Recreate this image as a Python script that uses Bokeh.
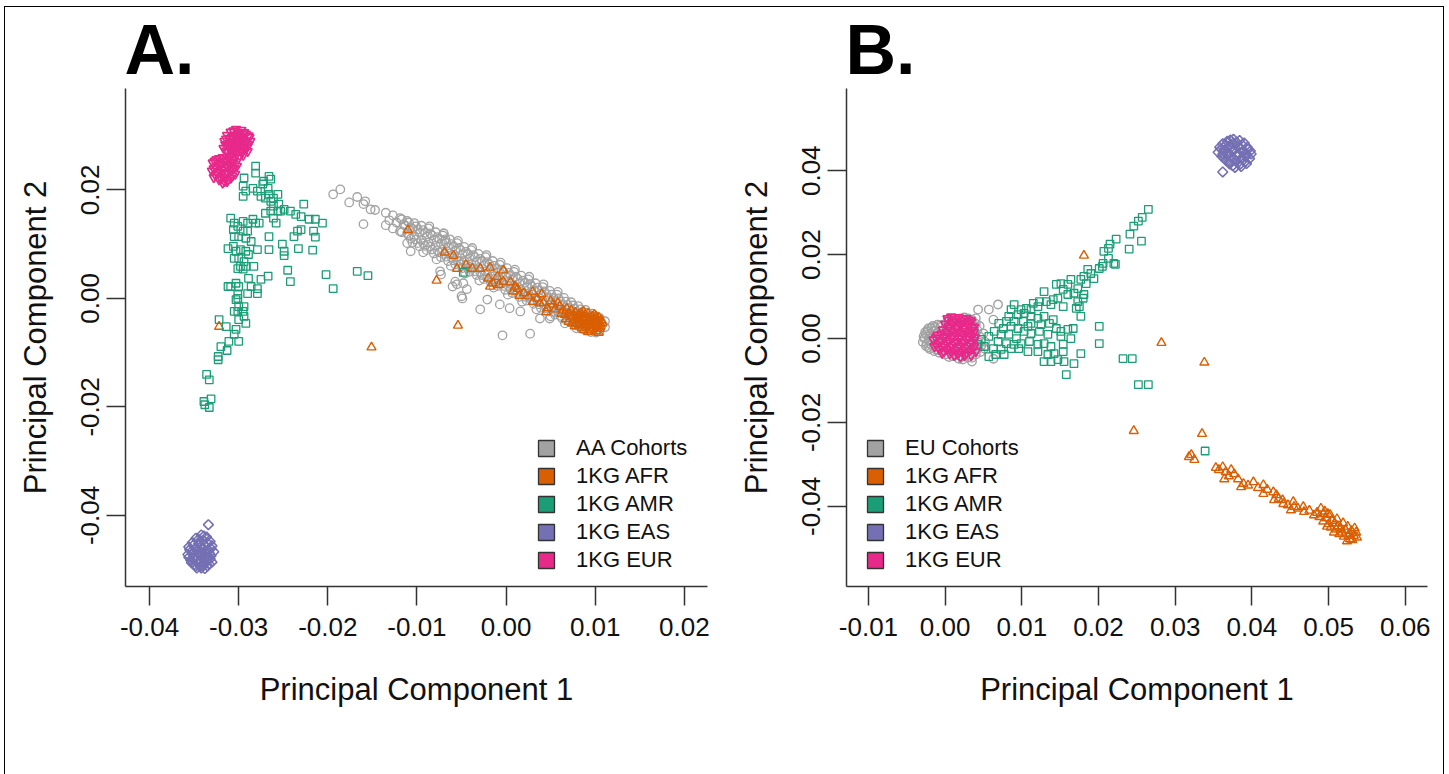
from bokeh.plotting import figure
from bokeh.models import Range1d, FixedTicker, PrintfTickFormatter, Legend, LegendItem
from bokeh.layouts import row
from bokeh.embed import file_html
from bokeh.resources import INLINE

GRAY = "#A2A2A2"
C_AFR = "#D95F02"
C_AMR = "#1B9E77"
C_EAS = "#7570B3"
C_EUR = "#E7298A"
NAN = float("nan")

# ---------------- Panel A data (PC1, PC2) ----------------
A_XTICKS = [-0.04, -0.03, -0.02, -0.01, 0.00, 0.01, 0.02]
A_YTICKS = [-0.04, -0.02, 0.00, 0.02]
A_LABELS = ["AA Cohorts", "1KG AFR", "1KG AMR", "1KG EAS", "1KG EUR"]

A_AA = [
    (-0.0135, 0.0158), (-0.0131, 0.0144), (-0.0135, 0.0135),
    (-0.0127, 0.0153), (-0.0123, 0.0140), (-0.0127, 0.0129),
    (-0.0119, 0.0148), (-0.0115, 0.0137), (-0.0119, 0.0124),
    (-0.0111, 0.0143), (-0.0107, 0.0131), (-0.0111, 0.0120), (-0.0107, 0.0110),
    (-0.0103, 0.0139), (-0.0099, 0.0127), (-0.0103, 0.0115), (-0.0099, 0.0102),
    (-0.0095, 0.0134), (-0.0091, 0.0121), (-0.0095, 0.0108), (-0.0091, 0.0097),
    (-0.0087, 0.0129), (-0.0083, 0.0116), (-0.0087, 0.0103), (-0.0083, 0.0090),
    (-0.0079, 0.0122), (-0.0075, 0.0110), (-0.0079, 0.0097), (-0.0075, 0.0085),
    (-0.0071, 0.0116), (-0.0067, 0.0102), (-0.0071, 0.0090), (-0.0067, 0.0077),
    (-0.0063, 0.0109), (-0.0059, 0.0096), (-0.0063, 0.0083), (-0.0059, 0.0070),
    (-0.0055, 0.0102), (-0.0051, 0.0089), (-0.0055, 0.0076), (-0.0051, 0.0063),
    (-0.0047, 0.0095), (-0.0043, 0.0082), (-0.0047, 0.0069), (-0.0043, 0.0056),
    (-0.0039, 0.0089), (-0.0035, 0.0076), (-0.0039, 0.0063), (-0.0035, 0.0050),
    (-0.0031, 0.0082), (-0.0027, 0.0069), (-0.0031, 0.0056), (-0.0027, 0.0043),
    (-0.0023, 0.0076), (-0.0019, 0.0063), (-0.0023, 0.0050), (-0.0019, 0.0037),
    (-0.0015, 0.0069), (-0.0011, 0.0056), (-0.0015, 0.0043), (-0.0011, 0.0030),
    (-0.0007, 0.0062), (-0.0003, 0.0049), (-0.0007, 0.0036), (-0.0003, 0.0023),
    (0.0001, 0.0056), (0.0005, 0.0043), (0.0001, 0.0030), (0.0005, 0.0017),
    (0.0009, 0.0049), (0.0013, 0.0036), (0.0009, 0.0023), (0.0013, 0.0010),
    (0.0017, 0.0042), (0.0021, 0.0029), (0.0017, 0.0016), (0.0021, 0.0003),
    (0.0025, 0.0035), (0.0029, 0.0022), (0.0025, 0.0009), (0.0029, -0.0004),
    (0.0033, 0.0028), (0.0037, 0.0015), (0.0033, 0.0002), (0.0037, -0.0011),
    (0.0041, 0.0021), (0.0045, 0.0008), (0.0041, -0.0005), (0.0045, -0.0018),
    (0.0049, 0.0014), (0.0053, 0.0001), (0.0049, -0.0012), (0.0053, -0.0025),
    (0.0057, 0.0007), (0.0061, -0.0006), (0.0057, -0.0019), (0.0061, -0.0032),
    (0.0065, 0.0001), (0.0069, -0.0012), (0.0065, -0.0025), (0.0069, -0.0038),
    (0.0073, -0.0007), (0.0077, -0.0019), (0.0073, -0.0032), (0.0077, -0.0045),
    (0.0081, -0.0014), (0.0085, -0.0026), (0.0081, -0.0039), (0.0085, -0.0052),
    (0.0089, -0.0021), (0.0093, -0.0033), (0.0089, -0.0046), (0.0093, -0.0058),
    (0.0097, -0.0028), (0.0101, -0.0040), (0.0097, -0.0052), (0.0101, -0.0063),
    (0.0105, -0.0036), (0.0108, -0.0048), (0.0105, -0.0060), (0.0111, -0.0042),
    (0.0111, -0.0053),
    (-0.0117, 0.0146), (-0.0113, 0.0134), (-0.0117, 0.0122),
    (-0.0109, 0.0140), (-0.0105, 0.0128), (-0.0109, 0.0116), (-0.0105, 0.0103),
    (-0.0101, 0.0133), (-0.0097, 0.0121), (-0.0101, 0.0109), (-0.0097, 0.0096),
    (-0.0093, 0.0126), (-0.0089, 0.0114), (-0.0093, 0.0102), (-0.0089, 0.0089),
    (-0.0085, 0.0120), (-0.0081, 0.0108), (-0.0085, 0.0096), (-0.0081, 0.0083),
    (-0.0077, 0.0113), (-0.0073, 0.0101), (-0.0077, 0.0089), (-0.0073, 0.0076),
    (-0.0069, 0.0106), (-0.0065, 0.0094), (-0.0069, 0.0082), (-0.0065, 0.0069),
    (-0.0061, 0.0100), (-0.0057, 0.0088), (-0.0061, 0.0076), (-0.0057, 0.0063),
    (-0.0053, 0.0093), (-0.0049, 0.0081), (-0.0053, 0.0069), (-0.0049, 0.0056),
    (-0.0045, 0.0086), (-0.0041, 0.0074), (-0.0045, 0.0062), (-0.0041, 0.0049),
    (-0.0037, 0.0080), (-0.0033, 0.0068), (-0.0037, 0.0056), (-0.0033, 0.0043),
    (-0.0029, 0.0073), (-0.0025, 0.0061), (-0.0029, 0.0049), (-0.0025, 0.0036),
    (-0.0021, 0.0067), (-0.0017, 0.0055), (-0.0021, 0.0043), (-0.0017, 0.0030),
    (-0.0013, 0.0060), (-0.0009, 0.0048), (-0.0013, 0.0036), (-0.0009, 0.0023),
    (-0.0005, 0.0053), (-0.0001, 0.0041), (-0.0005, 0.0029), (-0.0001, 0.0016),
    (0.0003, 0.0047), (0.0007, 0.0035), (0.0003, 0.0023), (0.0007, 0.0010),
    (0.0011, 0.0040), (0.0015, 0.0028), (0.0011, 0.0016), (0.0015, 0.0003),
    (0.0019, 0.0033), (0.0023, 0.0021), (0.0019, 0.0009), (0.0023, -0.0004),
    (0.0027, 0.0027), (0.0031, 0.0015), (0.0027, 0.0003), (0.0031, -0.0010),
    (0.0035, 0.0020), (0.0039, 0.0008), (0.0035, -0.0004), (0.0039, -0.0017),
    (0.0043, 0.0013), (0.0047, 0.0001), (0.0043, -0.0011), (0.0047, -0.0024),
    (0.0051, 0.0007), (0.0055, -0.0005), (0.0051, -0.0017), (0.0055, -0.0030),
    (0.0059, 0.0000), (0.0063, -0.0012), (0.0059, -0.0024), (0.0063, -0.0037),
    (0.0067, -0.0006), (0.0071, -0.0018), (0.0067, -0.0030), (0.0071, -0.0043),
    (0.0075, -0.0013), (0.0079, -0.0025), (0.0075, -0.0037), (0.0079, -0.0050),
    (0.0083, -0.0020), (0.0087, -0.0032), (0.0083, -0.0044), (0.0087, -0.0057),
    (0.0091, -0.0026), (0.0095, -0.0038), (0.0091, -0.0050), (0.0095, -0.0062),
    (0.0099, -0.0033), (0.0103, -0.0045), (0.0099, -0.0057),
    (-0.0093, 0.0085), (-0.0078, 0.0072), (-0.0062, 0.0060), (-0.0046, 0.0046),
    (-0.0030, 0.0033), (-0.0014, 0.0020), (0.0002, 0.0007), (0.0018, -0.0006),
    (0.0034, -0.0020), (0.0050, -0.0033), (0.0066, -0.0046),
    (-0.0086, 0.0133), (-0.0070, 0.0120), (-0.0054, 0.0106), (-0.0038, 0.0093),
    (-0.0022, 0.0080), (-0.0006, 0.0066), (0.0010, 0.0053), (0.0026, 0.0040),
    (0.0042, 0.0026), (0.0058, 0.0012),
    (-0.0194, 0.0192), (-0.0186, 0.0201), (-0.0176, 0.0177), (-0.0167, 0.0187),
    (-0.0160, 0.0174), (-0.0158, 0.0179), (-0.0152, 0.0164), (-0.0160, 0.0137),
    (-0.0147, 0.0163), (-0.0107, 0.0087), (-0.0111, 0.0102), (-0.0070, 0.0120),
    (-0.0068, 0.0109), (-0.0055, 0.0026), (-0.0048, 0.0028), (-0.0044, 0.0017),
    (-0.0049, 0.0000), (-0.0029, -0.0020), (-0.0021, -0.0002), (-0.0004, -0.0068),
    (0.0027, -0.0065), (-0.0007, -0.0011), (0.0004, -0.0018), (0.0016, -0.0024),
    (0.0038, -0.0037), (0.0049, -0.0037), (0.0079, -0.0055), (-0.0073, 0.0044),
    (-0.0060, 0.0022), (-0.0050, 0.0004), (-0.0057, 0.0031), (-0.0074, 0.0050),
]

A_AFR = [
    (-0.0110, 0.0126), (-0.0069, 0.0085), (-0.0059, 0.0079), (-0.0055, 0.0055),
    (-0.0038, 0.0055), (-0.0029, 0.0055), (-0.0018, 0.0057), (-0.0003, 0.0052),
    (-0.0020, 0.0037), (-0.0015, 0.0028), (-0.0003, 0.0031), (-0.0018, 0.0022),
    (0.0008, 0.0013), (0.0013, 0.0018), (0.0025, 0.0004), (0.0030, -0.0006),
    (0.0038, -0.0009), (0.0053, -0.0011), (0.0046, -0.0018),
    (-0.0045, 0.0062), (-0.0010, 0.0040), (0.0005, 0.0030), (0.0020, 0.0010),
    (0.0035, 0.0000), (0.0042, -0.0008), (0.0050, -0.0005), (0.0055, -0.0020),
    (0.0058, -0.0008), (0.0062, -0.0028), (0.0045, -0.0025), (0.0030, 0.0012),
    (0.0015, 0.0005), (-0.0008, 0.0025), (0.0010, 0.0022), (0.0040, 0.0008),
    (-0.0078, 0.0033), (-0.0054, -0.0050), (-0.0151, -0.0090), (-0.0322, -0.0052),
    (0.0060, -0.0015), (0.0064, -0.0022), (0.0068, -0.0018), (0.0070, -0.0027),
    (0.0073, -0.0022), (0.0075, -0.0032), (0.0078, -0.0026), (0.0080, -0.0036),
    (0.0081, -0.0030), (0.0083, -0.0042), (0.0085, -0.0034), (0.0086, -0.0048),
    (0.0088, -0.0040), (0.0089, -0.0030), (0.0090, -0.0053), (0.0091, -0.0045),
    (0.0093, -0.0036), (0.0094, -0.0058), (0.0095, -0.0049), (0.0096, -0.0041),
    (0.0097, -0.0033), (0.0098, -0.0055), (0.0099, -0.0046), (0.0100, -0.0038),
    (0.0101, -0.0060), (0.0102, -0.0051), (0.0103, -0.0043), (0.0104, -0.0035),
    (0.0105, -0.0056), (0.0106, -0.0047), (0.0107, -0.0040), (0.0080, -0.0046),
    (0.0076, -0.0040), (0.0085, -0.0055), (0.0092, -0.0062), (0.0072, -0.0034),
    (0.0066, -0.0030), (0.0087, -0.0024), (0.0099, -0.0030), (0.0104, -0.0063),
    (0.0067, -0.0038), (0.0070, -0.0043), (0.0074, -0.0046), (0.0077, -0.0051),
    (0.0079, -0.0041), (0.0082, -0.0049), (0.0084, -0.0027), (0.0087, -0.0058),
    (0.0089, -0.0050), (0.0092, -0.0028), (0.0094, -0.0044), (0.0096, -0.0054),
    (0.0098, -0.0039), (0.0100, -0.0049), (0.0102, -0.0056), (0.0104, -0.0042),
    (0.0106, -0.0052), (0.0108, -0.0045), (0.0095, -0.0061), (0.0091, -0.0040),
    (0.0083, -0.0037), (0.0078, -0.0034), (0.0088, -0.0035), (0.0101, -0.0033),
    (0.0097, -0.0047),
]

A_AMR = [
    (-0.0281, 0.0244), (-0.0281, 0.0231), (-0.0294, 0.0222), (-0.0295, 0.0207),
    (-0.0295, 0.0188), (-0.0292, 0.0198), (-0.0284, 0.0203), (-0.0279, 0.0198),
    (-0.0273, 0.0211), (-0.0272, 0.0216), (-0.0266, 0.0225), (-0.0264, 0.0220),
    (-0.0267, 0.0203), (-0.0275, 0.0188), (-0.0270, 0.0185), (-0.0264, 0.0179),
    (-0.0266, 0.0192), (-0.0261, 0.0185), (-0.0256, 0.0192), (-0.0255, 0.0174),
    (-0.0261, 0.0170), (-0.0256, 0.0161), (-0.0264, 0.0161), (-0.0270, 0.0157),
    (-0.0261, 0.0148), (-0.0258, 0.0139), (-0.0253, 0.0161), (-0.0249, 0.0164),
    (-0.0242, 0.0161), (-0.0236, 0.0155), (-0.0230, 0.0151), (-0.0221, 0.0146),
    (-0.0214, 0.0146), (-0.0206, 0.0139), (-0.0227, 0.0174), (-0.0234, 0.0124),
    (-0.0238, 0.0114), (-0.0230, 0.0127), (-0.0216, 0.0124), (-0.0214, 0.0113),
    (-0.0309, 0.0148), (-0.0305, 0.0139), (-0.0306, 0.0127), (-0.0301, 0.0133),
    (-0.0295, 0.0142), (-0.0290, 0.0139), (-0.0284, 0.0146), (-0.0281, 0.0139),
    (-0.0277, 0.0139), (-0.0295, 0.0124), (-0.0290, 0.0124), (-0.0305, 0.0114),
    (-0.0300, 0.0114), (-0.0292, 0.0111), (-0.0286, 0.0105), (-0.0312, 0.0092),
    (-0.0306, 0.0096), (-0.0303, 0.0087), (-0.0298, 0.0090), (-0.0292, 0.0087),
    (-0.0289, 0.0081), (-0.0305, 0.0074), (-0.0300, 0.0074), (-0.0294, 0.0068),
    (-0.0298, 0.0059), (-0.0292, 0.0059), (-0.0301, 0.0055), (-0.0295, 0.0054),
    (-0.0283, 0.0059), (-0.0279, 0.0090), (-0.0266, 0.0090), (-0.0266, 0.0114),
    (-0.0251, 0.0100), (-0.0249, 0.0087), (-0.0249, 0.0079), (-0.0233, 0.0092),
    (-0.0217, 0.0089), (-0.0245, 0.0052), (-0.0242, 0.0031), (-0.0202, 0.0044),
    (-0.0194, 0.0018), (-0.0167, 0.0050), (-0.0155, 0.0042), (-0.0312, 0.0022),
    (-0.0309, 0.0022), (-0.0303, 0.0028), (-0.0300, 0.0022), (-0.0289, 0.0037),
    (-0.0286, 0.0022), (-0.0279, 0.0018), (-0.0275, 0.0035), (-0.0267, 0.0041),
    (-0.0279, 0.0009), (-0.0301, 0.0000), (-0.0301, 0.0007), (-0.0290, 0.0009),
    (-0.0303, -0.0002), (-0.0300, -0.0015), (-0.0294, -0.0015), (-0.0305, -0.0024),
    (-0.0301, -0.0024), (-0.0295, -0.0024), (-0.0294, -0.0033), (-0.0300, -0.0039),
    (-0.0292, -0.0046), (-0.0322, -0.0039), (-0.0314, -0.0052), (-0.0303, -0.0057),
    (-0.0305, -0.0066), (-0.0300, -0.0079), (-0.0311, -0.0079), (-0.0320, -0.0089),
    (-0.0313, -0.0096), (-0.0323, -0.0107), (-0.0323, -0.0113), (-0.0336, -0.0140),
    (-0.0333, -0.0150), (-0.0339, -0.0190), (-0.0331, -0.0185), (-0.0338, -0.0196),
    (-0.0333, -0.0201), (-0.0048, 0.0048),
]

A_EAS = [
    (-0.0342, -0.0436), (-0.0336, -0.0440), (-0.0348, -0.0442), (-0.0340, -0.0446),
    (-0.0352, -0.0450), (-0.0332, -0.0448), (-0.0345, -0.0452), (-0.0338, -0.0455),
    (-0.0356, -0.0458), (-0.0330, -0.0456), (-0.0348, -0.0460), (-0.0341, -0.0462),
    (-0.0334, -0.0464), (-0.0353, -0.0466), (-0.0328, -0.0467), (-0.0345, -0.0469),
    (-0.0337, -0.0470), (-0.0357, -0.0472), (-0.0331, -0.0474), (-0.0349, -0.0476),
    (-0.0341, -0.0478), (-0.0335, -0.0481), (-0.0354, -0.0482), (-0.0345, -0.0485),
    (-0.0330, -0.0486), (-0.0339, -0.0488), (-0.0350, -0.0490), (-0.0343, -0.0494),
    (-0.0335, -0.0493), (-0.0347, -0.0497), (-0.0338, -0.0498), (-0.0344, -0.0448),
    (-0.0350, -0.0468), (-0.0336, -0.0476), (-0.0342, -0.0484),
    (-0.0339, -0.0438), (-0.0345, -0.0444), (-0.0335, -0.0451), (-0.0351, -0.0455),
    (-0.0342, -0.0457), (-0.0331, -0.0461), (-0.0355, -0.0463), (-0.0346, -0.0464),
    (-0.0338, -0.0466), (-0.0352, -0.0471), (-0.0333, -0.0470), (-0.0344, -0.0473),
    (-0.0356, -0.0477), (-0.0339, -0.0479), (-0.0332, -0.0480), (-0.0351, -0.0480),
    (-0.0348, -0.0483), (-0.0336, -0.0485), (-0.0353, -0.0487), (-0.0344, -0.0489),
    (-0.0333, -0.0490), (-0.0340, -0.0492), (-0.0348, -0.0493), (-0.0342, -0.0497),
    (-0.0334, -0.0417),
]

A_EUR = [
    (-0.0303, 0.0312), (-0.0297, 0.0310), (-0.0309, 0.0307), (-0.0300, 0.0305),
    (-0.0292, 0.0303), (-0.0313, 0.0301), (-0.0305, 0.0300), (-0.0296, 0.0298),
    (-0.0288, 0.0297), (-0.0310, 0.0295), (-0.0301, 0.0293), (-0.0292, 0.0291),
    (-0.0316, 0.0290), (-0.0306, 0.0288), (-0.0297, 0.0286), (-0.0289, 0.0284),
    (-0.0312, 0.0283), (-0.0302, 0.0281), (-0.0294, 0.0279), (-0.0317, 0.0277),
    (-0.0307, 0.0275), (-0.0298, 0.0273), (-0.0290, 0.0271), (-0.0312, 0.0269),
    (-0.0303, 0.0267), (-0.0295, 0.0264), (-0.0309, 0.0262), (-0.0300, 0.0259),
    (-0.0306, 0.0309), (-0.0294, 0.0306), (-0.0302, 0.0302), (-0.0289, 0.0300),
    (-0.0308, 0.0297), (-0.0299, 0.0295), (-0.0314, 0.0294), (-0.0295, 0.0293),
    (-0.0304, 0.0290), (-0.0287, 0.0290), (-0.0310, 0.0287), (-0.0300, 0.0286),
    (-0.0292, 0.0287), (-0.0315, 0.0284), (-0.0306, 0.0283), (-0.0297, 0.0282),
    (-0.0290, 0.0280), (-0.0310, 0.0278), (-0.0302, 0.0277), (-0.0294, 0.0275),
    (-0.0314, 0.0272), (-0.0305, 0.0271), (-0.0296, 0.0269), (-0.0308, 0.0266),
    (-0.0299, 0.0264), (-0.0305, 0.0260),
    (-0.0318, 0.0260), (-0.0325, 0.0256), (-0.0314, 0.0254), (-0.0306, 0.0252),
    (-0.0329, 0.0250), (-0.0320, 0.0248), (-0.0310, 0.0246), (-0.0302, 0.0244),
    (-0.0326, 0.0242), (-0.0316, 0.0240), (-0.0307, 0.0238), (-0.0330, 0.0235),
    (-0.0321, 0.0233), (-0.0312, 0.0231), (-0.0304, 0.0229), (-0.0326, 0.0227),
    (-0.0317, 0.0224), (-0.0309, 0.0222), (-0.0322, 0.0219), (-0.0313, 0.0216),
    (-0.0318, 0.0213),
    (-0.0322, 0.0258), (-0.0311, 0.0257), (-0.0327, 0.0253), (-0.0317, 0.0251),
    (-0.0308, 0.0249), (-0.0323, 0.0246), (-0.0313, 0.0244), (-0.0305, 0.0241),
    (-0.0328, 0.0239), (-0.0319, 0.0237), (-0.0310, 0.0235), (-0.0324, 0.0231),
    (-0.0315, 0.0229), (-0.0307, 0.0226), (-0.0328, 0.0223), (-0.0320, 0.0221),
    (-0.0312, 0.0219), (-0.0316, 0.0216),
]

# ---------------- Panel B data (PC1, PC2) ----------------
B_XTICKS = [-0.01, 0.00, 0.01, 0.02, 0.03, 0.04, 0.05, 0.06]
B_YTICKS = [-0.04, -0.02, 0.00, 0.02, 0.04]
B_LABELS = ["EU Cohorts", "1KG AFR", "1KG AMR", "1KG EAS", "1KG EUR"]

B_EU = [
    (-0.0028, 0.0005), (-0.0029, -0.0008), (-0.0026, 0.0015), (-0.0025, -0.0018),
    (-0.0022, 0.0024), (-0.0020, 0.0008), (-0.0021, -0.0005), (-0.0020, -0.0025),
    (-0.0016, 0.0030), (-0.0015, 0.0018), (-0.0014, -0.0030), (-0.0010, 0.0033),
    (-0.0008, -0.0034), (-0.0005, 0.0028), (0.0000, -0.0038), (0.0005, 0.0040),
    (0.0015, 0.0045), (0.0025, 0.0050), (0.0035, 0.0045), (0.0040, 0.0035),
    (0.0042, 0.0020), (0.0045, 0.0005), (0.0044, -0.0010), (0.0042, -0.0025),
    (0.0040, -0.0038), (0.0030, -0.0045), (0.0010, -0.0042), (0.0050, 0.0012),
    (0.0052, -0.0008),
    (-0.0027, 0.0000), (-0.0025, 0.0010), (-0.0024, -0.0012), (-0.0023, 0.0018),
    (-0.0022, -0.0021), (-0.0018, 0.0025), (-0.0018, -0.0015), (-0.0017, 0.0003),
    (-0.0013, 0.0027), (-0.0012, -0.0026), (-0.0011, 0.0012), (-0.0009, -0.0008),
    (-0.0006, 0.0032), (-0.0004, -0.0030), (0.0002, 0.0038), (0.0010, 0.0044),
    (0.0020, 0.0048), (0.0030, 0.0048), (0.0045, 0.0030), (0.0047, -0.0018),
    (0.0046, -0.0032), (0.0035, -0.0046), (0.0005, -0.0044), (0.0018, -0.0048),
    (0.0043, 0.0069), (0.0069, 0.0081), (0.0063, 0.0045), (0.0051, -0.0024),
    (0.0063, -0.0048), (0.0023, -0.0050), (0.0040, 0.0048), (0.0057, 0.0069),
    (0.0035, -0.0055),
]

B_AFR = [
    (0.0181, 0.0198), (0.0282, -0.0010), (0.0338, -0.0057), (0.0246, -0.0220),
    (0.0335, -0.0227), (0.0318, -0.0282), (0.0321, -0.0277), (0.0325, -0.0289),
    (0.0353, -0.0308), (0.0357, -0.0313), (0.0362, -0.0306), (0.0366, -0.0318),
    (0.0364, -0.0335), (0.0373, -0.0313), (0.0377, -0.0323), (0.0382, -0.0335),
    (0.0389, -0.0346), (0.0386, -0.0354), (0.0402, -0.0342), (0.0415, -0.0349),
    (0.0415, -0.0370), (0.0428, -0.0366), (0.0432, -0.0373), (0.0429, -0.0385),
    (0.0435, -0.0382), (0.0441, -0.0394), (0.0447, -0.0397), (0.0454, -0.0389),
    (0.0455, -0.0401), (0.0467, -0.0401), (0.0468, -0.0413), (0.0451, -0.0409),
    (0.0481, -0.0421), (0.0493, -0.0418), (0.0499, -0.0418),
    (0.0395, -0.0350), (0.0420, -0.0360), (0.0440, -0.0385), (0.0460, -0.0405),
    (0.0475, -0.0410), (0.0485, -0.0415), (0.0370, -0.0328), (0.0408, -0.0356),
    (0.0490, -0.0405), (0.0495, -0.0412), (0.0488, -0.0425), (0.0497, -0.0428),
    (0.0502, -0.0420), (0.0505, -0.0434), (0.0493, -0.0436), (0.0500, -0.0442),
    (0.0508, -0.0440), (0.0512, -0.0447), (0.0503, -0.0450), (0.0510, -0.0455),
    (0.0516, -0.0452), (0.0518, -0.0462), (0.0522, -0.0456), (0.0525, -0.0448),
    (0.0527, -0.0465), (0.0530, -0.0458), (0.0533, -0.0470), (0.0536, -0.0462),
    (0.0520, -0.0472), (0.0514, -0.0466), (0.0528, -0.0478), (0.0524, -0.0483),
    (0.0531, -0.0480), (0.0537, -0.0474), (0.0507, -0.0462), (0.0498, -0.0448),
    (0.0511, -0.0430), (0.0519, -0.0440), (0.0526, -0.0470), (0.0534, -0.0452),
]

B_AMR = [
    (0.0265, 0.0308), (0.0257, 0.0289), (0.0252, 0.0280), (0.0246, 0.0268),
    (0.0241, 0.0249), (0.0256, 0.0232), (0.0240, 0.0213), (0.0223, 0.0237),
    (0.0215, 0.0225), (0.0213, 0.0215), (0.0207, 0.0208), (0.0213, 0.0191),
    (0.0220, 0.0179), (0.0206, 0.0179), (0.0201, 0.0167), (0.0186, 0.0165),
    (0.0190, 0.0155), (0.0194, 0.0143), (0.0181, 0.0148), (0.0177, 0.0141),
    (0.0184, 0.0131), (0.0164, 0.0141), (0.0160, 0.0129), (0.0151, 0.0131),
    (0.0145, 0.0129), (0.0154, 0.0117), (0.0173, 0.0119), (0.0168, 0.0108),
    (0.0181, 0.0105), (0.0180, 0.0096), (0.0173, 0.0088), (0.0175, 0.0076),
    (0.0171, 0.0072), (0.0177, 0.0053), (0.0160, 0.0105), (0.0147, 0.0096),
    (0.0141, 0.0093), (0.0132, 0.0088), (0.0129, 0.0112), (0.0123, 0.0088),
    (0.0115, 0.0084), (0.0138, 0.0081), (0.0154, 0.0076), (0.0121, 0.0076),
    (0.0112, 0.0069), (0.0106, 0.0072), (0.0099, 0.0069), (0.0090, 0.0081),
    (0.0086, 0.0069), (0.0095, 0.0057), (0.0103, 0.0060), (0.0112, 0.0053),
    (0.0121, 0.0048), (0.0129, 0.0053), (0.0141, 0.0045), (0.0083, 0.0053),
    (0.0080, 0.0041), (0.0090, 0.0041), (0.0102, 0.0041), (0.0112, 0.0036),
    (0.0125, 0.0033), (0.0136, 0.0036), (0.0070, 0.0036), (0.0076, 0.0024),
    (0.0086, 0.0029), (0.0095, 0.0024), (0.0108, 0.0029), (0.0103, 0.0017),
    (0.0112, 0.0012), (0.0123, 0.0017), (0.0134, 0.0010), (0.0145, 0.0024),
    (0.0151, 0.0017), (0.0160, 0.0022), (0.0167, 0.0024), (0.0201, 0.0029),
    (0.0064, 0.0017), (0.0057, 0.0005), (0.0073, 0.0010), (0.0083, 0.0010),
    (0.0093, 0.0000), (0.0069, -0.0007), (0.0080, -0.0012), (0.0090, -0.0014),
    (0.0099, -0.0012), (0.0110, -0.0007), (0.0121, -0.0014), (0.0129, -0.0012),
    (0.0138, -0.0019), (0.0151, 0.0005), (0.0154, -0.0014), (0.0164, 0.0000),
    (0.0201, -0.0012), (0.0047, -0.0002), (0.0051, -0.0019), (0.0063, -0.0024),
    (0.0073, -0.0026), (0.0086, -0.0024), (0.0096, -0.0024), (0.0108, -0.0031),
    (0.0121, -0.0031), (0.0134, -0.0038), (0.0142, -0.0036), (0.0154, -0.0031),
    (0.0177, -0.0036), (0.0129, -0.0055), (0.0138, -0.0055), (0.0147, -0.0050),
    (0.0155, -0.0055), (0.0168, -0.0060), (0.0158, -0.0086), (0.0232, -0.0048),
    (0.0244, -0.0048), (0.0252, -0.0110), (0.0265, -0.0110), (0.0339, -0.0268),
    (0.0038, 0.0017), (0.0043, -0.0014), (0.0057, -0.0043), (0.0066, -0.0038),
    (0.0077, -0.0038), (0.0222, 0.0177), (0.0205, 0.0172),
]

B_EAS = [
    (0.0376, 0.0475), (0.0368, 0.0470), (0.0384, 0.0472), (0.0362, 0.0464),
    (0.0375, 0.0465), (0.0390, 0.0466), (0.0358, 0.0456), (0.0370, 0.0458),
    (0.0382, 0.0459), (0.0394, 0.0456), (0.0364, 0.0449), (0.0377, 0.0451),
    (0.0389, 0.0448), (0.0398, 0.0447), (0.0356, 0.0444), (0.0369, 0.0442),
    (0.0382, 0.0441), (0.0393, 0.0439), (0.0361, 0.0434), (0.0374, 0.0433),
    (0.0387, 0.0431), (0.0397, 0.0429), (0.0366, 0.0425), (0.0379, 0.0424),
    (0.0391, 0.0421), (0.0371, 0.0416), (0.0384, 0.0414), (0.0378, 0.0408),
    (0.0372, 0.0473), (0.0380, 0.0468), (0.0366, 0.0461), (0.0387, 0.0462),
    (0.0360, 0.0452), (0.0372, 0.0454), (0.0385, 0.0453), (0.0395, 0.0451),
    (0.0362, 0.0440), (0.0375, 0.0446), (0.0388, 0.0444), (0.0399, 0.0440),
    (0.0368, 0.0437), (0.0380, 0.0436), (0.0392, 0.0434), (0.0364, 0.0429),
    (0.0377, 0.0428), (0.0389, 0.0426), (0.0370, 0.0421), (0.0382, 0.0419),
    (0.0393, 0.0417), (0.0375, 0.0412), (0.0386, 0.0410),
    (0.0362, 0.0397),
]

B_EUR = [
    (0.0008, 0.0052), (0.0018, 0.0050), (0.0028, 0.0048), (0.0004, 0.0044),
    (0.0014, 0.0042), (0.0024, 0.0041), (0.0034, 0.0040), (0.0000, 0.0035),
    (0.0010, 0.0034), (0.0020, 0.0032), (0.0030, 0.0031), (0.0038, 0.0028),
    (0.0005, 0.0025), (0.0015, 0.0024), (0.0025, 0.0022), (0.0035, 0.0020),
    (0.0002, 0.0016), (0.0012, 0.0015), (0.0022, 0.0013), (0.0032, 0.0012),
    (-0.0010, 0.0008), (0.0000, 0.0006), (0.0010, 0.0005), (0.0020, 0.0004),
    (0.0030, 0.0003), (0.0039, 0.0002), (-0.0015, -0.0003), (-0.0005, -0.0004),
    (0.0005, -0.0005), (0.0015, -0.0007), (0.0025, -0.0008), (0.0035, -0.0009),
    (-0.0012, -0.0014), (-0.0002, -0.0015), (0.0008, -0.0016), (0.0018, -0.0017),
    (0.0028, -0.0018), (0.0038, -0.0019), (-0.0008, -0.0025), (0.0002, -0.0026),
    (0.0012, -0.0027), (0.0022, -0.0028), (0.0032, -0.0029), (0.0040, -0.0031),
    (-0.0004, -0.0035), (0.0006, -0.0036), (0.0016, -0.0037), (0.0026, -0.0038),
    (0.0034, -0.0040), (0.0020, -0.0043),
    (0.0003, 0.0048), (0.0013, 0.0047), (0.0023, 0.0046), (0.0033, 0.0044),
    (0.0009, 0.0039), (0.0019, 0.0037), (0.0029, 0.0036), (0.0005, 0.0030),
    (0.0015, 0.0029), (0.0025, 0.0027), (0.0035, 0.0025), (-0.0003, 0.0021),
    (0.0007, 0.0020), (0.0017, 0.0019), (0.0027, 0.0017), (0.0037, 0.0015),
    (-0.0005, 0.0011), (0.0005, 0.0010), (0.0015, 0.0009), (0.0025, 0.0008),
    (0.0035, 0.0006), (-0.0012, 0.0002), (-0.0002, 0.0001), (0.0008, 0.0000),
    (0.0018, -0.0001), (0.0028, -0.0002), (0.0038, -0.0004), (-0.0008, -0.0009),
    (0.0002, -0.0010), (0.0012, -0.0011), (0.0022, -0.0012), (0.0032, -0.0013),
    (-0.0014, -0.0019), (-0.0004, -0.0020), (0.0006, -0.0021), (0.0016, -0.0022),
    (0.0026, -0.0023), (0.0036, -0.0024), (-0.0002, -0.0031), (0.0008, -0.0032),
    (0.0018, -0.0033), (0.0028, -0.0034), (0.0012, -0.0040), (0.0025, -0.0041),
]

FONT = "Liberation Sans"
LEG_COLORS = [GRAY, C_AFR, C_AMR, C_EAS, C_EUR]


def xs(pts):
    return [p[0] for p in pts]


def ys(pts):
    return [p[1] for p in pts]


def panel(letter, xr, yr, xticks, yticks, series, labels, leg_loc, width, mbl, mbr):
    p = figure(width=width, height=767, x_range=Range1d(*xr), y_range=Range1d(*yr),
               output_backend="svg", toolbar_location=None,
               min_border_left=mbl, min_border_right=mbr,
               min_border_top=81, min_border_bottom=188)
    p.outline_line_color = None
    p.xgrid.visible = False
    p.ygrid.visible = False
    p.background_fill_color = "white"
    p.border_fill_color = "white"

    p.title.text = letter
    p.title.text_font = FONT
    p.title.text_font_size = "70px"
    p.title.text_font_style = "bold"
    p.title.text_color = "black"
    p.title.align = "left"
    p.title.offset = -1
    p.title.standoff = 0

    for ax, ticks, lab in ((p.xaxis[0], xticks, "Principal Component 1"),
                           (p.yaxis[0], yticks, "Principal Component 2")):
        ax.ticker = FixedTicker(ticks=ticks)
        ax.formatter = PrintfTickFormatter(format="%.2f")
        ax.major_tick_out = 19
        ax.major_tick_in = 0
        ax.minor_tick_line_color = None
        ax.major_tick_line_color = "#333333"
        ax.major_tick_line_width = 1.5
        ax.axis_line_color = "#333333"
        ax.axis_line_width = 1.5
        ax.major_label_text_font = FONT
        ax.major_label_text_font_size = "26px"
        ax.major_label_text_color = "#111111"
        ax.axis_label = lab
        ax.axis_label_text_font = FONT
        ax.axis_label_text_font_size = "31px"
        ax.axis_label_text_font_style = "normal"
        ax.axis_label_text_color = "#111111"
    p.xaxis.major_label_standoff = 12
    p.xaxis.axis_label_standoff = 33
    p.yaxis.major_label_orientation = "vertical"
    p.yaxis.major_label_standoff = 7
    p.yaxis.axis_label_standoff = 26

    for pts, marker, color, size, angle, lw in series:
        p.scatter(xs(pts), ys(pts), marker=marker, size=size, angle=angle,
                  fill_color=None, line_color=color, line_width=lw)

    items = []
    for lab, col in zip(labels, LEG_COLORS):
        r = p.quad(left=[NAN], right=[NAN], top=[NAN], bottom=[NAN], fill_color=col,
                   line_color="#333333", line_width=1.3)
        items.append(LegendItem(label=lab, renderers=[r]))
    leg = Legend(items=items, location=leg_loc, glyph_width=20, glyph_height=20,
                 label_standoff=20, spacing=2, padding=0, margin=0,
                 border_line_color=None, background_fill_alpha=0,
                 label_text_font=FONT, label_text_font_size="22px",
                 label_text_color="#111111", label_height=20)
    p.add_layout(leg)
    return p


DIAMOND_ANGLE = 0.7853981634

p1 = panel("A.", (-0.0427, 0.0226), (-0.0531, 0.0387), A_XTICKS, A_YTICKS,
           [(A_AA, "circle", GRAY, 8.5, 0, 1.3),
            (A_AFR, "triangle", C_AFR, 9, 0, 1.4),
            (A_AMR, "square", C_AMR, 7.5, 0, 1.3),
            (A_EAS, "square", C_EAS, 7, DIAMOND_ANGLE, 1.6),
            (A_EUR, "inverted_triangle", C_EUR, 9, 0, 1.7)],
           A_LABELS, (411, 13), 715, 120, 13)

p2 = panel("B.", (-0.01286, 0.0629), (-0.0591, 0.0596), B_XTICKS, B_YTICKS,
           [(B_EU, "circle", GRAY, 8.5, 0, 1.4),
            (B_AFR, "triangle", C_AFR, 9, 0, 1.4),
            (B_AMR, "square", C_AMR, 7.5, 0, 1.3),
            (B_EAS, "square", C_EAS, 7, DIAMOND_ANGLE, 1.6),
            (B_EUR, "inverted_triangle", C_EUR, 9, 0, 1.7)],
           B_LABELS, (19, 13), 723, 126, 16)

layout = row(p1, p2, styles={"margin-left": "4px", "margin-top": "6px",
                             "border-left": "1.5px solid #000",
                             "border-top": "1.5px solid #000",
                             "border-right": "1.5px solid #000"})

open("out.html", "w").write(file_html(layout, INLINE))
